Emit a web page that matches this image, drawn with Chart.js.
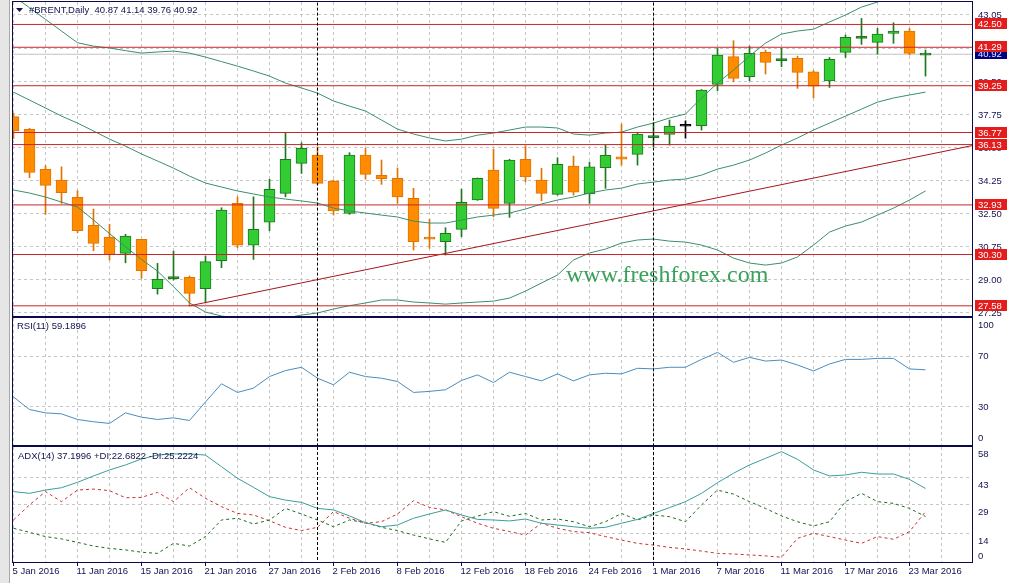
<!DOCTYPE html>
<html>
<head>
<meta charset="utf-8">
<title>#BRENT,Daily</title>
<script src="https://cdn.jsdelivr.net/npm/chart.js@4.4.1/dist/chart.umd.min.js"></script>
<style>
  html, body { margin: 0; padding: 0; background: #fff; }
  body { position: relative; width: 1015px; height: 583px; overflow: hidden; }
  #edge { position: absolute; left: 0; top: 0; width: 9px; height: 583px; background: #e6e6e6; border-right: 1px solid #a9a9a9; }
  .pane { position: absolute; left: 0; width: 1015px; }
</style>
</head>
<body>
<div id="edge"></div>
<div class="pane" style="top:0;height:317px"><canvas id="price"></canvas></div>
<div class="pane" style="top:317px;height:129px"><canvas id="rsi"></canvas></div>
<div class="pane" style="top:446px;height:137px"><canvas id="adx"></canvas></div>
<script>
// daily bars, 5 Jan .. 24 Mar 2016
const dates = [
  '5 Jan 2016','6 Jan 2016','7 Jan 2016','8 Jan 2016','11 Jan 2016','12 Jan 2016','13 Jan 2016','14 Jan 2016','15 Jan 2016','18 Jan 2016',
  '19 Jan 2016','20 Jan 2016','21 Jan 2016','22 Jan 2016','25 Jan 2016','26 Jan 2016','27 Jan 2016','28 Jan 2016','29 Jan 2016','1 Feb 2016',
  '2 Feb 2016','3 Feb 2016','4 Feb 2016','5 Feb 2016','8 Feb 2016','9 Feb 2016','10 Feb 2016','11 Feb 2016','12 Feb 2016','15 Feb 2016',
  '16 Feb 2016','17 Feb 2016','18 Feb 2016','19 Feb 2016','22 Feb 2016','23 Feb 2016','24 Feb 2016','25 Feb 2016','26 Feb 2016','29 Feb 2016',
  '1 Mar 2016','2 Mar 2016','3 Mar 2016','4 Mar 2016','7 Mar 2016','8 Mar 2016','9 Mar 2016','10 Mar 2016','11 Mar 2016','14 Mar 2016',
  '15 Mar 2016','16 Mar 2016','17 Mar 2016','18 Mar 2016','21 Mar 2016','22 Mar 2016','23 Mar 2016','24 Mar 2016'
];

const open = [37.61,36.94,34.82,34.25,33.33,31.85,31.23,30.36,31.10,28.49,
  29.02,29.09,28.49,29.97,33.01,30.79,32.01,33.54,35.13,35.57,
  34.20,32.48,35.57,34.50,34.34,33.28,31.20,30.98,31.63,33.19,
  34.78,33.01,35.35,34.25,33.49,34.99,33.51,34.90,35.48,35.61,
  36.50,36.67,37.10,37.13,39.32,40.79,39.73,41.02,40.58,40.70,
  39.99,39.50,41.02,41.76,41.55,42.03,42.15,40.87];
const high = [37.79,36.99,35.01,34.95,33.68,32.71,31.90,31.37,31.10,29.83,
  30.48,29.16,30.22,32.78,33.36,33.36,34.29,36.73,36.23,36.01,
  34.25,35.70,35.93,35.31,34.89,33.81,32.17,31.72,33.77,34.36,
  35.88,35.35,36.07,34.87,35.43,35.52,35.20,36.10,37.22,36.75,
  37.29,37.43,37.39,39.05,41.23,41.64,41.35,41.14,41.23,40.82,
  40.05,40.75,41.94,42.82,42.29,42.59,42.29,41.14];
const low = [36.45,34.37,32.43,33.01,31.45,30.50,30.01,29.86,29.04,28.20,
  28.95,27.58,27.78,29.60,30.66,30.04,31.56,33.36,34.60,34.02,
  32.39,32.43,34.29,34.02,33.01,30.54,30.63,30.27,31.24,33.17,
  32.30,32.27,34.16,33.15,33.45,33.45,33.01,33.81,35.04,35.04,
  36.01,36.10,36.47,36.90,38.98,39.46,39.51,39.87,40.26,39.11,
  38.61,39.16,40.75,41.44,40.93,41.50,40.88,39.76];
const close = [36.86,34.66,33.97,33.58,31.56,30.89,30.31,31.28,29.44,28.98,
  29.06,28.24,29.92,32.66,30.80,31.63,33.76,35.35,35.93,34.07,
  32.61,35.57,34.55,34.32,33.36,30.98,31.12,31.42,33.07,34.34,
  32.75,35.31,34.42,33.54,35.08,33.60,34.95,35.56,35.36,36.69,
  36.56,37.11,37.14,39.02,40.88,39.64,40.97,40.49,40.61,39.96,
  39.23,40.65,41.81,41.79,41.99,42.15,40.97,40.92];

// bollinger bands
const bbUpper = [44.00,43.39,42.77,42.15,41.53,41.35,41.25,41.11,40.98,41.04,
  41.09,40.98,40.77,40.53,40.29,40.03,39.76,39.39,39.13,38.86,
  38.44,38.17,37.91,37.43,36.95,36.69,36.48,36.32,36.42,36.63,
  36.74,36.90,37.06,37.06,37.01,36.69,36.63,36.74,36.79,37.06,
  37.27,37.54,37.75,38.60,39.39,40.08,40.82,41.51,41.99,42.15,
  42.25,42.63,43.00,43.42,43.69,44.00,44.22,44.32];
const bbMiddle = [38.91,38.49,38.07,37.64,37.27,36.85,36.42,36.05,35.63,35.26,
  34.88,34.46,34.09,33.88,33.67,33.51,33.35,33.24,33.14,33.03,
  32.76,32.61,32.50,32.39,32.29,32.07,31.97,31.97,32.13,32.29,
  32.39,32.50,32.71,32.98,33.19,33.35,33.56,33.72,33.82,34.04,
  34.14,34.25,34.30,34.51,34.83,35.04,35.31,35.68,36.10,36.48,
  36.90,37.27,37.64,38.01,38.38,38.60,38.76,38.91];
const bbLower = [33.72,33.56,33.35,33.08,32.82,32.13,31.41,30.71,30.04,29.42,
  28.60,27.73,27.25,27.04,26.93,26.88,26.88,26.93,27.09,27.20,
  27.41,27.59,27.73,27.89,27.89,27.78,27.73,27.67,27.73,27.78,
  27.83,27.99,28.36,28.79,29.21,30.01,30.38,30.59,30.91,31.07,
  31.12,31.01,30.96,30.80,30.54,30.11,29.85,29.74,29.85,30.17,
  30.80,31.49,31.81,32.02,32.39,32.76,33.19,33.67];

const rsi = [37.8,27.9,25.3,24.5,20.1,18.3,17.0,25.3,21.9,20.1,
  21.4,19.3,33.9,48.2,41.4,44.8,53.9,58.6,61.2,52.6,
  47.4,57.3,53.9,52.6,50.0,41.4,42.2,43.5,50.8,55.2,
  49.2,57.3,53.9,50.5,56.0,50.5,55.2,56.5,56.0,60.4,
  59.9,61.2,61.2,67.4,72.9,65.1,69.0,66.1,66.9,63.0,
  58.3,63.8,67.4,67.4,68.2,68.2,59.9,59.2];

const adx = [35.6,34.7,36.4,37.6,40.4,43.7,46.8,49.4,52.5,54.5,
  55.1,55.1,54.5,48.5,42.5,37.8,33.0,31.2,30.0,26.9,
  26.1,23.0,19.5,17.4,18.3,21.8,24.0,26.1,23.5,21.2,
  20.9,20.4,21.4,19.2,18.3,17.4,16.6,17.1,19.2,21.2,
  24.3,27.3,30.4,34.7,40.2,45.1,49.4,52.8,56.3,52.3,
  46.8,43.7,44.2,45.6,44.7,44.7,41.9,37.2];
const plusDI = [16.6,14.5,12.3,11.1,9.3,7.4,6.2,5.4,4.2,3.6,
  8.8,7.4,12.3,20.9,21.8,18.8,20.9,26.9,24.0,20.9,
  17.4,20.9,19.5,17.1,15.4,13.1,11.1,9.3,20.4,22.9,
  25.2,22.8,24.3,20.9,21.4,20.0,17.4,20.0,24.3,20.9,
  23.5,22.6,20.0,28.7,36.4,34.3,30.4,26.9,23.0,20.0,
  17.8,20.0,30.4,34.7,30.4,29.5,26.9,22.7];
const minusDI = [20.9,28.7,35.6,30.4,36.4,36.9,36.1,32.4,32.6,35.2,
  30.4,37.6,32.1,27.8,24.3,23.5,20.5,17.1,15.4,17.1,
  25.2,21.8,19.2,20.0,24.0,30.9,27.4,26.1,22.6,19.2,
  16.6,14.9,13.1,19.2,16.6,14.9,14.3,12.3,10.5,8.8,
  7.9,6.7,5.9,4.8,3.6,3.3,2.8,2.3,1.6,11.4,
  14.0,12.3,10.5,8.8,12.3,10.9,14.9,25.2];

const levels = [42.50, 41.29, 39.25, 36.77, 36.13, 32.93, 30.30, 27.58];
const bidPrice = 40.92;
const trendFrom = [11, 27.58];
const trendTo = [60, 36.09];
const monthStarts = [19, 40];
const cursorBar = 42;

const priceTicks = [27.25, 29.00, 30.75, 32.50, 34.25, 36.00, 37.75, 39.50, 41.25, 43.05];
const rsiLevels = [30, 70];
const adxTicks = [14, 29, 43];
const rsiTitle = 'RSI(11) 59.1896';
const adxTitle = 'ADX(14) 37.1996 +DI:22.6822 -DI:25.2224';

// ---- look ----
const X_MIN = -0.09375, X_MAX = 59.90625;
const GRID = '#c6c6c6';
const FRAME = '#0b0b4a';
const TEXT = '#12124e';
const FONT = '9.5px "Liberation Sans", Arial, sans-serif';
Chart.defaults.font.family = '"Liberation Sans", Arial, sans-serif';

const gridBars = [];
for (let b = 0; b <= 58; b += 2) gridBars.push(b);

function xAxis(labels) {
  return {
    type: 'linear', min: X_MIN, max: X_MAX, offset: false,
    afterBuildTicks: s => { s.ticks = gridBars.map(v => ({value: v})); },
    afterFit: s => { s.height = labels ? 21 : 0; },
    grid: {
      color: GRID, offset: false, borderDash: [3, 3],
      drawTicks: labels, tickLength: 4, tickWidth: 1, tickBorderDash: [],
      tickColor: c => (c.tick && c.tick.value % 4 === 0) ? FRAME : 'rgba(0,0,0,0)'
    },
    border: { display: false, dash: [3, 3] },
    ticks: {
      display: labels, autoSkip: false, maxRotation: 0, minRotation: 0,
      align: 'start', labelOffset: -1, padding: 0, color: TEXT,
      font: { size: 9.5 },
      callback: v => v % 4 === 0 ? dates[v] : ''
    }
  };
}

function yAxis(min, max, ticks) {
  return {
    type: 'linear', position: 'right', min, max, beginAtZero: false,
    afterBuildTicks: s => { s.ticks = ticks.map(v => ({value: v})); },
    afterFit: s => { s.width = 43; },
    grid: { color: GRID, drawTicks: false, borderDash: [3, 3] },
    border: { display: false, dash: [3, 3] },
    ticks: { display: false }
  };
}

const series = arr => arr.map((v, i) => ({x: i, y: v}));
const span = v => [{x: X_MIN - 1, y: v}, {x: X_MAX + 1, y: v}];
const vline = (b, lo, hi) => [{x: b, y: lo}, {x: b, y: hi}];
const line = (data, color, extra) => Object.assign({
  type: 'line', data, borderColor: color, borderWidth: 1,
  pointRadius: 0, fill: false, tension: 0
}, extra || {});

function frame(ctx, a) {
  ctx.strokeStyle = FRAME;
  ctx.lineWidth = 1;
  ctx.setLineDash([]);
  ctx.strokeRect(a.left + 0.5, a.top - 0.5, a.right - a.left, a.bottom - a.top + 1);
}

function tag(ctx, y, text, fill, ink) {
  const top = Math.round(y) - 6;
  ctx.fillStyle = fill;
  ctx.fillRect(975, top, 32, 11);
  ctx.fillStyle = ink;
  ctx.fillText(text, 978, top + 6);
}

const common = {
  responsive: true, maintainAspectRatio: false, animation: false, events: [],
  plugins: { legend: { display: false }, tooltip: { enabled: false } }
};

// ---- price pane ----
const bars = dates.map((d, i) => i);
const bull = i => close[i] >= open[i];
const edge = bars.map(i => i === cursorBar ? '#000000' : bull(i) ? '#1d7a1d' : '#e07400');
const fillc = bars.map(i => {
  if (i === cursorBar || Math.abs(open[i] - close[i]) < 0.1) return edge[i];
  return bull(i) ? '#33cc33' : '#ff8c00';
});

const priceDecor = {
  id: 'priceDecor',
  beforeDatasetsDraw(chart) {
    const ctx = chart.ctx;
    ctx.save();
    ctx.font = '24px "Liberation Serif", "Times New Roman", serif';
    ctx.fillStyle = '#3aa05a';
    ctx.textBaseline = 'alphabetic';
    ctx.fillText('www.freshforex.com', 566, 282);
    ctx.restore();
  },
  afterDraw(chart) {
    const {ctx, chartArea: a} = chart;
    const y = chart.scales.y;
    ctx.save();
    frame(ctx, a);
    ctx.font = FONT;
    ctx.textAlign = 'left';
    ctx.textBaseline = 'middle';
    ctx.fillStyle = TEXT;
    priceTicks.forEach(v => ctx.fillText(v.toFixed(2), 978, y.getPixelForValue(v) + 1));
    tag(ctx, y.getPixelForValue(bidPrice), bidPrice.toFixed(2), '#000080', '#e6e6ff');
    levels.forEach(v => tag(ctx, y.getPixelForValue(v), v.toFixed(2), '#e41c1c', '#ffffff'));
    ctx.fillStyle = TEXT;
    ctx.beginPath();
    ctx.moveTo(16, 8); ctx.lineTo(23, 8); ctx.lineTo(19.5, 12); ctx.closePath();
    ctx.fill();
    const last = open.length - 1;
    const head = '#BRENT,Daily  ' + [open, high, low, close].map(s => s[last].toFixed(2)).join(' ');
    ctx.fillText(head, 29, 10);
    ctx.restore();
  }
};

new Chart(document.getElementById('price'), {
  type: 'bar',
  data: {
    datasets: [
      { type: 'bar', data: bars.map(i => ({x: i, y: [low[i], high[i]]})),
        backgroundColor: edge, barThickness: 1, grouped: false, order: 20 },
      { type: 'bar', data: bars.map(i => ({x: i, y: [open[i], close[i]]})),
        backgroundColor: fillc, borderColor: edge, borderWidth: 1, borderSkipped: false,
        barThickness: 11, minBarLength: 2, grouped: false, order: 19 },
      line(span(bidPrice), '#c4c4c4', { order: 21 }),
      line(series(bbUpper), '#3b8f6b', { order: 10 }),
      line(series(bbMiddle), '#3b8f6b', { order: 10 }),
      line(series(bbLower), '#3b8f6b', { order: 10 }),
      ...levels.map(v => line(span(v), '#c8262a', { order: 5 })),
      line([{x: trendFrom[0], y: trendFrom[1]}, {x: trendTo[0], y: trendTo[1]}], '#a3161c', { order: 5 }),
      ...monthStarts.map(b => line(vline(b, 26, 45), '#000000', { borderDash: [3, 2], order: 4 }))
    ]
  },
  options: Object.assign({}, common, {
    layout: { padding: { left: 12, top: 2, right: 0, bottom: 1 } },
    scales: { x: xAxis(false), y: yAxis(27.04, 43.69, priceTicks) }
  }),
  plugins: [priceDecor]
});

// ---- RSI pane ----
const rsiDecor = {
  id: 'rsiDecor',
  afterDraw(chart) {
    const {ctx, chartArea: a} = chart;
    const y = chart.scales.y;
    ctx.save();
    frame(ctx, a);
    ctx.font = FONT;
    ctx.textAlign = 'left';
    ctx.textBaseline = 'middle';
    ctx.fillStyle = TEXT;
    ctx.fillText('100', 978, a.top + 7);
    rsiLevels.forEach(v => ctx.fillText(String(v), 978, y.getPixelForValue(v) + 0.5));
    ctx.fillText('0', 978, a.bottom - 7);
    ctx.fillText(rsiTitle, 17, a.top + 8);
    ctx.restore();
  }
};

new Chart(document.getElementById('rsi'), {
  type: 'line',
  data: {
    datasets: [
      line(series(rsi), '#4a8cbc', { order: 2 }),
      ...monthStarts.map(b => line(vline(b, -5, 105), '#000000', { borderDash: [3, 2], order: 1 }))
    ]
  },
  options: Object.assign({}, common, {
    layout: { padding: { left: 12, top: 1, right: 0, bottom: 1 } },
    scales: { x: xAxis(false), y: yAxis(0, 100, rsiLevels) }
  }),
  plugins: [rsiDecor]
});

// ---- ADX pane ----
const adxDecor = {
  id: 'adxDecor',
  afterDraw(chart) {
    const {ctx, chartArea: a} = chart;
    const y = chart.scales.y;
    ctx.save();
    frame(ctx, a);
    ctx.font = FONT;
    ctx.textAlign = 'left';
    ctx.textBaseline = 'middle';
    ctx.fillStyle = TEXT;
    ctx.fillText('58', 978, a.top + 7);
    adxTicks.forEach(v => ctx.fillText(String(v), 978, y.getPixelForValue(v) + 8.5));
    ctx.fillText('0', 978, a.bottom - 5.3);
    ctx.fillText(adxTitle, 18, a.top + 9);
    ctx.restore();
  }
};

new Chart(document.getElementById('adx'), {
  type: 'line',
  data: {
    datasets: [
      line(series(adx), '#3a9e9a', { order: 2 }),
      line(series(plusDI), '#1e6a1e', { borderDash: [3, 3], order: 3 }),
      line(series(minusDI), '#c83030', { borderDash: [3, 3], order: 3 }),
      ...monthStarts.map(b => line(vline(b, -5, 65), '#000000', { borderDash: [3, 2], order: 1 }))
    ]
  },
  options: Object.assign({}, common, {
    layout: { padding: { left: 12, top: 1, right: 0, bottom: 0 } },
    scales: { x: xAxis(true), y: yAxis(-0.86, 58.69, adxTicks) }
  }),
  plugins: [adxDecor]
});
</script>
</body>
</html>
